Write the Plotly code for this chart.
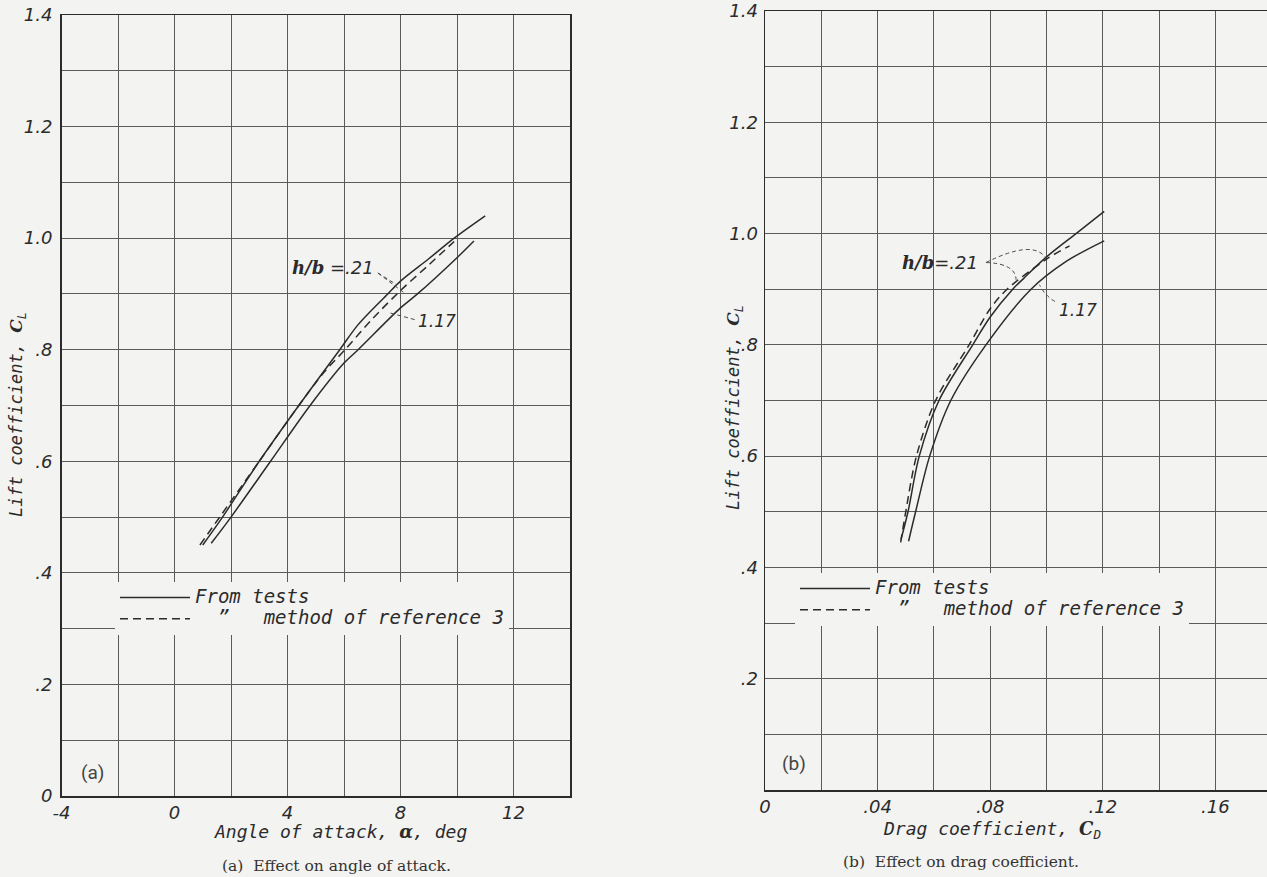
import plotly.graph_objects as go

# ---------------- data: panel (a) lift coefficient vs angle of attack ----------------
alpha_tests_021 = [1.0, 1.7, 3.0, 4.4, 5.85, 6.5, 7.55, 8.0, 9.0, 9.9, 11.0]
cl_a_tests_021 = [0.45, 0.50, 0.60, 0.70, 0.80, 0.845, 0.90, 0.923, 0.963, 1.0, 1.04]

alpha_tests_117 = [1.3, 2.0, 3.4, 4.8, 6.0, 6.5, 8.0, 8.6, 10.0, 10.6]
cl_a_tests_117 = [0.453, 0.50, 0.60, 0.70, 0.776, 0.80, 0.875, 0.90, 0.965, 0.995]

alpha_ref3 = [0.9, 1.6, 3.0, 4.4, 5.3, 6.0, 7.0, 8.0, 9.0, 9.9]
cl_a_ref3 = [0.45, 0.50, 0.60, 0.70, 0.76, 0.798, 0.855, 0.906, 0.952, 0.994]

# ---------------- data: panel (b) lift coefficient vs drag coefficient ----------------
cd_tests_021 = [0.0483, 0.0508, 0.0548, 0.0618, 0.0738, 0.080, 0.088, 0.092, 0.100, 0.1105, 0.1205]
cl_b_tests_021 = [0.45, 0.50, 0.60, 0.70, 0.80, 0.85, 0.90, 0.92, 0.958, 1.0, 1.04]

cd_tests_117 = [0.051, 0.0535, 0.0585, 0.066, 0.0785, 0.0945, 0.107, 0.1205]
cl_b_tests_117 = [0.447, 0.50, 0.60, 0.70, 0.80, 0.90, 0.95, 0.987]

cd_ref3 = [0.0482, 0.050, 0.0538, 0.0606, 0.0725, 0.080, 0.086, 0.100, 0.1082]
cl_b_ref3 = [0.445, 0.50, 0.60, 0.70, 0.80, 0.865, 0.90, 0.954, 0.978]

# ---------------- tick labels ----------------
alpha_ticks = [-4, -2, 0, 2, 4, 6, 8, 10, 12, 14]
alpha_ticktext = ["-4", "", "0", "", "4", "", "8", "", "12", ""]
cd_ticks = [0, 0.02, 0.04, 0.06, 0.08, 0.10, 0.12, 0.14, 0.16, 0.18]
cd_ticktext = ["0", "", ".04", "", ".08", "", ".12", "", ".16", ""]
cl_ticks = [0, 0.1, 0.2, 0.3, 0.4, 0.5, 0.6, 0.7, 0.8, 0.9, 1.0, 1.1, 1.2, 1.3, 1.4]
cl_ticktext_a = ["0", "", ".2", "", ".4", "", ".6", "", ".8", "", "1.0", "", "1.2", "", "1.4"]
cl_ticktext_b = ["", "", ".2", "", ".4", "", ".6", "", ".8", "", "1.0", "", "1.2", "", "1.4"]

# ---------------- styling ----------------
BG = "#f3f3f1"
INK = "#2b2b2b"
GRID = "#5a5a5a"
LET = "DejaVu Sans"
MONO = "DejaVu Sans Mono"
W, H = 1267, 877

fig = go.Figure()


def curve(x, y, xa, ya, dash, name, show, legend):
    fig.add_trace(go.Scatter(
        x=x, y=y, xaxis=xa, yaxis=ya, mode="lines", name=name,
        showlegend=show, legend=legend, hoverinfo="skip",
        line=dict(color=INK, width=1.5, dash=dash, shape="spline", smoothing=0.9),
    ))


TESTS_NAME = '<span style="font-size:19px">From tests</span>'
REF_NAME = ('<span style="font-size:19px">\u00a0\u00a0\u201d\u00a0\u00a0\u00a0'
            'method of reference 3</span>')
curve(alpha_tests_021, cl_a_tests_021, "x", "y", "solid", TESTS_NAME, True, "legend")
curve(alpha_tests_117, cl_a_tests_117, "x", "y", "solid", TESTS_NAME, False, "legend")
curve(alpha_ref3, cl_a_ref3, "x", "y", "8px,5px", REF_NAME, True, "legend")

curve(cd_tests_021, cl_b_tests_021, "x2", "y2", "solid", TESTS_NAME, True, "legend2")
curve(cd_tests_117, cl_b_tests_117, "x2", "y2", "solid", TESTS_NAME, False, "legend2")
curve(cd_ref3, cl_b_ref3, "x2", "y2", "8px,5px", REF_NAME, True, "legend2")

tickfont = dict(family=LET, size=18, color=INK, style="italic")
axis_common = dict(showgrid=True, gridcolor=GRID, gridwidth=1, zeroline=False,
                   showline=True, linecolor=INK, linewidth=1.5, ticks="",
                   tickfont=tickfont, fixedrange=True, automargin=False)

legend_font = dict(family=MONO, size=14, color=INK, style="italic")
fig.update_layout(
    width=W, height=H,
    margin=dict(l=0, r=0, t=0, b=0, autoexpand=False),
    paper_bgcolor=BG, plot_bgcolor=BG,
    xaxis=dict(domain=[61.5 / W, 570 / W], range=[-4, 14], tickvals=alpha_ticks,
               ticktext=alpha_ticktext, anchor="y", mirror=True, **axis_common),
    yaxis=dict(domain=[1 - 796 / H, 1 - 15 / H], range=[0, 1.4], tickvals=cl_ticks,
               ticktext=cl_ticktext_a, anchor="x", mirror=True, ticklabelstandoff=4,
               **axis_common),
    xaxis2=dict(domain=[765 / W, 1.0], range=[0, (W - 765) / 2815], tickvals=cd_ticks,
                ticktext=cd_ticktext, anchor="y2", mirror=True, **axis_common),
    yaxis2=dict(domain=[1 - 790 / H, 1 - 11 / H], range=[0, 1.4], tickvals=cl_ticks,
                ticktext=cl_ticktext_b, anchor="x2", mirror=False, ticklabelstandoff=2,
                **axis_common),
    legend=dict(x=115 / W, y=1 - 582 / H, xanchor="left", yanchor="top",
                bgcolor=BG, borderwidth=0, itemwidth=70, tracegroupgap=0,
                font=legend_font),
    legend2=dict(x=795 / W, y=1 - 573 / H, xanchor="left", yanchor="top",
                 bgcolor=BG, borderwidth=0, itemwidth=70, tracegroupgap=0,
                 font=legend_font),
    showlegend=True,
)

LEAD = dict(color="#4a4a4a", width=1, dash="4px,3px")
shapes = [
    # panel (a) leaders
    dict(type="line", xref="x", yref="y", x0=7.2, y0=0.9375, x1=7.85, y1=0.917, line=LEAD),
    dict(type="line", xref="x", yref="y", x0=7.2, y0=0.9375, x1=8.1, y1=0.903, line=LEAD),
    dict(type="line", xref="x", yref="y", x0=8.5, y0=0.854, x1=7.62, y1=0.866, line=LEAD),
    # panel (b) leaders
    dict(type="path", xref="x2", yref="y2", path="M 0.0785,0.948 Q 0.0948,0.989 0.0995,0.958", line=LEAD),
    dict(type="path", xref="x2", yref="y2", path="M 0.0785,0.948 Q 0.089,0.946 0.0892,0.917", line=LEAD),
    dict(type="path", xref="x2", yref="y2", path="M 0.1030,0.878 Q 0.0995,0.888 0.0975,0.908", line=LEAD),
]
fig.update_layout(shapes=shapes)

HB = '<span style="font-family:DejaVu Serif"><b><i>h/b</i></b></span>'
ann_font = dict(family=LET, size=18, color=INK, style="italic")
num_font = dict(family=LET, size=17, color=INK, style="italic")
xt_font = dict(family=MONO, size=18, color=INK, style="italic")
yt_font = dict(family=MONO, size=17, color=INK, style="italic")
cap_font = dict(family="DejaVu Serif", size=15.5, color="#333")
BOLD_C = '<span style="font-family:DejaVu Serif"><b><i>C</i></b></span>'


def ann(xref, yref, x, y, text, font, xanchor="center", textangle=0):
    return dict(xref=xref, yref=yref, x=x, y=y, text=text, showarrow=False,
                xanchor=xanchor, yanchor="middle", textangle=textangle, font=font)


annotations = [
    ann("x", "y", 7.15, 0.947, HB + "\u00a0=.21", ann_font, "right"),
    ann("x", "y", 8.55, 0.852, "1.17", num_font, "left"),
    ann("x2", "y2", 0.0765, 0.948, HB + "=.21", ann_font, "right"),
    ann("x2", "y2", 0.1038, 0.862, "1.17", num_font, "left"),
    # panel letters
    ann("x", "y", -2.92, 0.043, "(a)", dict(family="Roboto", size=19, color="#444")),
    ann("x2", "y2", 0.0103, 0.047, "(b)", dict(family="Roboto", size=19, color="#444")),
    # axis titles
    ann("paper", "paper", 340 / W, 1 - 831 / H,
        'Angle of attack, <span style="font-family:DejaVu Serif"><b><i>α</i></b></span>, deg',
        xt_font),
    ann("paper", "paper", 992 / W, 1 - 830 / H,
        "Drag coefficient, " + BOLD_C + "<sub>D</sub>", xt_font),
    ann("paper", "paper", 18 / W, 1 - 415 / H,
        "Lift coefficient, " + BOLD_C + "<sub>L</sub>", yt_font, textangle=-90),
    ann("paper", "paper", 734 / W, 1 - 408 / H,
        "Lift coefficient, " + BOLD_C + "<sub>L</sub>", yt_font, textangle=-90),
    # captions
    ann("paper", "paper", 336 / W, 1 - 866 / H, "(a)\u00a0\u00a0Effect on angle of attack.", cap_font),
    ann("paper", "paper", 961 / W, 1 - 862 / H, "(b)\u00a0\u00a0Effect on drag coefficient.", cap_font),
]
fig.update_layout(annotations=annotations)

fig.write_html(
    "out.html",
    config={"displayModeBar": False, "staticPlot": True},
    post_script="document.body.style.margin='0';document.body.style.overflow='hidden';",
)
